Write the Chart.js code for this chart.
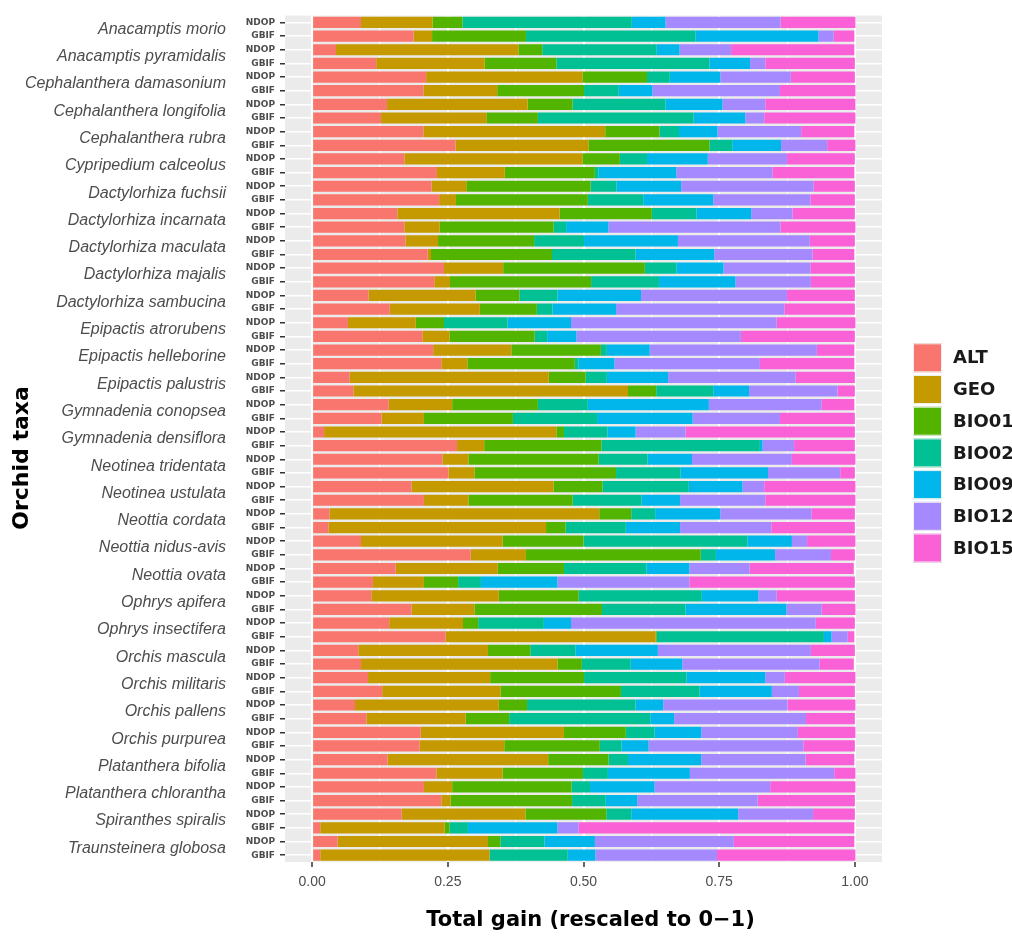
<!DOCTYPE html>
<html><head><meta charset="utf-8">
<script src="https://cdn.jsdelivr.net/npm/chart.js@4.4.1/dist/chart.umd.min.js"></script>
<style>html,body{margin:0;padding:0;background:#fff}#wrap{width:1012px;height:936px}</style>
</head><body><div id="wrap"><canvas id="c" width="1012" height="936"></canvas></div>
<script>
const taxa = ['Anacamptis morio','Anacamptis pyramidalis','Cephalanthera damasonium','Cephalanthera longifolia','Cephalanthera rubra','Cypripedium calceolus','Dactylorhiza fuchsii','Dactylorhiza incarnata','Dactylorhiza maculata','Dactylorhiza majalis','Dactylorhiza sambucina','Epipactis atrorubens','Epipactis helleborine','Epipactis palustris','Gymnadenia conopsea','Gymnadenia densiflora','Neotinea tridentata','Neotinea ustulata','Neottia cordata','Neottia nidus-avis','Neottia ovata','Ophrys apifera','Ophrys insectifera','Orchis mascula','Orchis militaris','Orchis pallens','Orchis purpurea','Platanthera bifolia','Platanthera chlorantha','Spiranthes spiralis','Traunsteinera globosa'];
const sources = ['NDOP','GBIF'];
const variables = ['ALT','GEO','BIO01','BIO02','BIO09','BIO12','BIO15'];
const colors = ['#F8766D','#C49A00','#53B400','#00C094','#00B6EB','#A58AFF','#FB61D7'];

// one value per bar (NDOP, GBIF for each taxon, top to bottom)
const ALT = [.090,.187,.044,.118,.210,.205,.138,.127,.205,.264, .170,.230,.220,.234,.157,.170,.172,.213,.243,.225, .104,.143,.066,.203,.223,.238,.069,.076,.141,.128, .022,.267,.240,.251,.183,.206,.032,.030,.090,.292, .154,.112,.109,.183,.142,.246,.085,.090,.103,.129, .079,.100,.200,.198,.139,.229,.206,.238,.165,.015, .047,.015];
const GEO = [.132,.034,.336,.200,.288,.136,.259,.194,.335,.245, .328,.125,.064,.031,.299,.065,.060,.006,.109,.029, .197,.166,.125,.050,.144,.048,.367,.506,.117,.078, .428,.050,.048,.048,.262,.082,.497,.401,.261,.102, .188,.094,.235,.116,.136,.387,.239,.362,.225,.218, .265,.183,.264,.156,.296,.122,.052,.017,.228,.229, .277,.312];
const BIO01 = [.055,.173,.044,.132,.119,.160,.083,.095,.100,.223, .069,.166,.229,.243,.170,.210,.177,.223,.261,.260, .081,.105,.052,.157,.165,.198,.068,.052,.158,.164, .014,.216,.240,.261,.090,.192,.059,.036,.149,.322, .122,.063,.147,.235,.028,.002,.078,.045,.173,.222, .052,.080,.114,.176,.111,.148,.220,.224,.149,.009, .023,.000];
const BIO02 = [.312,.312,.211,.282,.042,.064,.171,.287,.036,.042, .050,.007,.048,.102,.082,.023,.092,.154,.058,.125, .070,.029,.117,.023,.011,.007,.039,.105,.092,.155, .080,.292,.090,.119,.159,.127,.044,.111,.302,.028, .152,.042,.227,.154,.121,.308,.083,.090,.189,.145, .200,.260,.053,.040,.036,.046,.034,.062,.046,.034, .081,.144];
const BIO09 = [.062,.227,.042,.075,.093,.062,.105,.095,.071,.090, .112,.143,.119,.129,.101,.078,.173,.145,.087,.141, .154,.117,.117,.054,.079,.066,.113,.066,.223,.176, .052,.005,.082,.161,.099,.071,.120,.100,.082,.109, .079,.141,.104,.186,.050,.014,.152,.095,.145,.133, .051,.044,.086,.050,.135,.151,.119,.058,.197,.165, .093,.051];
const BIO12 = [.212,.028,.095,.028,.130,.235,.079,.035,.154,.085, .146,.177,.244,.179,.076,.317,.243,.181,.160,.139, .269,.310,.379,.303,.308,.268,.235,.163,.208,.161, .092,.058,.184,.133,.040,.157,.168,.168,.028,.103, .111,.243,.034,.065,.451,.030,.282,.253,.036,.050, .229,.243,.178,.285,.192,.266,.213,.222,.138,.039, .256,.224];
const BIO15 = [.138,.038,.227,.165,.118,.139,.166,.168,.098,.052, .125,.151,.076,.082,.115,.138,.083,.077,.082,.081, .125,.130,.145,.210,.069,.174,.109,.032,.060,.138, .312,.112,.117,.027,.168,.166,.080,.154,.089,.044, .192,.305,.144,.062,.072,.012,.081,.063,.130,.103, .125,.090,.106,.095,.090,.039,.157,.179,.077,.508, .222,.255];

const majorTicks = [0, 0.25, 0.5, 0.75, 1];
const minorTicks = [0.125, 0.375, 0.625, 0.875];
const xTitle = 'Total gain (rescaled to 0\u22121)';
const yTitle = 'Orchid taxa';

const series = [ALT, GEO, BIO01, BIO02, BIO09, BIO12, BIO15];
const rowLabels = taxa.flatMap(() => sources);
const isMajor = v => majorTicks.some(m => Math.abs(m - v) < 1e-9);

const panelBg = {
  id: 'panelBg',
  beforeDraw(chart) {
    const {ctx, chartArea: a} = chart;
    ctx.save();
    ctx.fillStyle = '#ebebeb';
    ctx.fillRect(a.left, a.top, a.right - a.left, a.bottom - a.top);
    ctx.restore();
  }
};

const decor = {
  id: 'decor',
  afterDraw(chart) {
    const {ctx, chartArea: a} = chart;
    ctx.save();
    // x title
    ctx.fillStyle = '#000000';
    ctx.font = 'bold 21px "DejaVu Sans"';
    ctx.textAlign = 'center';
    ctx.textBaseline = 'alphabetic';
    ctx.fillText(xTitle, (a.left + a.right) / 2 + 7, 926);
    // y title
    ctx.save();
    ctx.translate(28, 458);
    ctx.rotate(-Math.PI / 2);
    ctx.font = 'bold 22px "DejaVu Sans"';
    ctx.fillText(yTitle, 0, 0);
    ctx.restore();
    // legend
    const lx = a.right + 31, ly0 = 343.3, step = 31.7, key = 29;
    variables.forEach((name, i) => {
      const y = ly0 + i * step;
      ctx.fillStyle = colors[i];
      ctx.fillRect(lx, y, key, key);
      ctx.strokeStyle = '#f0f0f0';
      ctx.lineWidth = 1;
      ctx.strokeRect(lx + 0.5, y + 0.5, key - 1, key - 1);
      ctx.fillStyle = '#1a1a1a';
      ctx.font = 'bold 18px "DejaVu Sans"';
      ctx.textAlign = 'left';
      ctx.textBaseline = 'middle';
      ctx.fillText(name, lx + 40, y + key / 2 + 1);
    });
    ctx.restore();
  }
};

new Chart(document.getElementById('c'), {
  type: 'bar',
  data: {
    labels: rowLabels,
    datasets: variables.map((name, i) => ({
      label: name,
      data: series[i],
      backgroundColor: colors[i],
      borderWidth: 0,
      barPercentage: 0.82,
      categoryPercentage: 1.0
    }))
  },
  options: {
    indexAxis: 'y',
    responsive: false,
    animation: false,
    layout: {padding: {left: 0, right: 130, top: 10, bottom: 0}},
    plugins: {legend: {display: false}, tooltip: {enabled: false}},
    scales: {
      x: {
        type: 'linear', stacked: true, min: -0.05, max: 1.05,
        afterBuildTicks: s => { s.ticks = [...majorTicks, ...minorTicks].sort((p, q) => p - q).map(v => ({value: v})); },
        afterFit: s => { s.height = 74; },
        grid: {
          color: '#ffffff',
          lineWidth: c => (c.tick && isMajor(c.tick.value)) ? 2 : 1,
          drawTicks: true, tickLength: 5, tickWidth: 1.5,
          tickColor: c => (c.tick && isMajor(c.tick.value)) ? '#333333' : 'rgba(0,0,0,0)'
        },
        border: {display: false},
        ticks: {
          autoSkip: false, maxRotation: 0, padding: 7, color: '#4d4d4d',
          font: {family: 'Liberation Sans', size: 14},
          callback: v => isMajor(v) ? Number(v).toFixed(2) : ''
        }
      },
      y: {
        type: 'category', stacked: true, offset: true, position: 'left', weight: 0,
        afterFit: s => { s.width = 53; },
        grid: {offset: false, color: '#ffffff', lineWidth: 1.5, drawTicks: true, tickLength: 5, tickWidth: 1.5, tickColor: '#333333'},
        border: {display: false},
        ticks: {autoSkip: false, padding: 5, color: '#4d4d4d', font: {family: 'DejaVu Sans', weight: 'bold', size: 9}}
      },
      y2: {
        type: 'category', axis: 'y', position: 'left', labels: taxa, offset: true, weight: 1,
        afterFit: s => { s.width = 232; },
        grid: {display: false, drawTicks: false},
        border: {display: false},
        ticks: {autoSkip: false, padding: 6, color: '#4d4d4d', font: {family: 'Liberation Sans', style: 'italic', size: 16}}
      }
    }
  },
  plugins: [panelBg, decor]
});
</script>
</body></html>
